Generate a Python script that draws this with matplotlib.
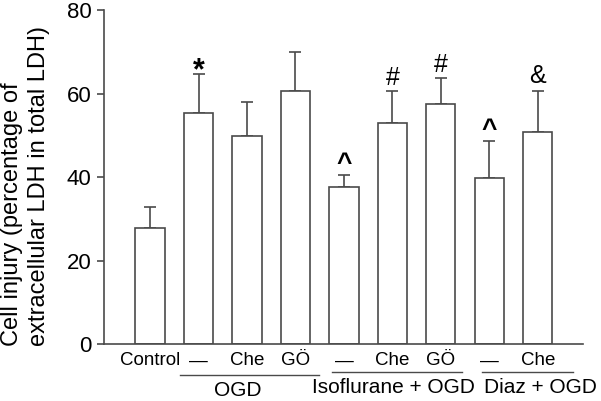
import matplotlib
matplotlib.use("Agg")
import matplotlib.pyplot as plt
import matplotlib.transforms as mtransforms

plt.rcParams["font.family"] = ["Liberation Sans", "DejaVu Sans"]

# ---- data ----
bar_labels = ["Control", "—", "Che", "GÖ", "—", "Che", "GÖ", "—", "Che"]
means = [27.8, 55.3, 49.8, 60.6, 37.7, 52.9, 57.5, 39.8, 50.8]
sems = [5.0, 9.4, 8.2, 9.3, 2.9, 7.7, 6.2, 8.9, 9.8]
marks = ["", "*", "", "", "^", "#", "#", "^", "&"]
groups = ["OGD", "Isoflurane + OGD", "Diaz + OGD"]

# layout of the group brackets under the axis (data x units)
group_lines = [(0.62, 3.48), (3.75, 6.43), (6.85, 8.72)]
group_line_y = [-0.093, -0.084, -0.084]
group_text_x = [1.81, 5.03, 8.06]
# per-symbol style: fontsize, weight, baseline offset above cap (points)
mark_style = {"*": (22, "bold", -3.6), "^": (19, "bold", 2.5),
              "#": (18, "normal", 4.3), "&": (18, "normal", 6.0)}

edge = "#4a4a4a"
fig = plt.figure(figsize=(6.01, 4.01), dpi=100)
ax = fig.add_axes([0.173, 0.142, 0.797, 0.833])

x = list(range(len(means)))
ax.bar(x, means, width=0.6, color="white", edgecolor=edge, linewidth=1.2, zorder=2)
ax.errorbar(x, means, yerr=[[0] * len(sems), sems], fmt="none", ecolor=edge,
            elinewidth=1.2, capsize=4.5, capthick=1.2, zorder=1)

# significance marks above the error bars
for xi, m, s, sym in zip(x, means, sems, marks):
    if sym:
        size, weight, off = mark_style[sym]
        ax.annotate(sym, (xi, m + s), xytext=(0, off), textcoords="offset points",
                    ha="center", va="baseline", fontsize=size, fontweight=weight,
                    color="black")

ax.set_ylim(0, 80)
ax.set_xlim(-0.95, 8.93)
ax.set_yticks([0, 20, 40, 60, 80])
ax.tick_params(axis="y", labelsize=16, length=5, width=1.2, color=edge, pad=4)
ax.set_xticks(x)
ax.set_xticklabels(bar_labels, fontsize=13.5)
ax.get_xticklabels()[0].set_x(-0.18)
ax.tick_params(axis="x", length=0, pad=6)
for sp in ("top", "right"):
    ax.spines[sp].set_visible(False)
for sp in ("left", "bottom"):
    ax.spines[sp].set_color(edge)
    ax.spines[sp].set_linewidth(1.2)

ax.set_ylabel("Cell injury (percentage of\nextracellular LDH in total LDH)",
              fontsize=17, linespacing=1.25, multialignment="left")
ax.yaxis.set_label_coords(-0.214, -0.005)
ax.yaxis.label.set_va("top")
ax.yaxis.label.set_ha("left")
ax.yaxis.label.set_rotation_mode("anchor")

# group underlines and group names
trans = mtransforms.blended_transform_factory(ax.transData, ax.transAxes)
for name, (a, b), ly, tx in zip(groups, group_lines, group_line_y, group_text_x):
    ax.plot([a, b], [ly, ly], color=edge, lw=1.0, transform=trans, clip_on=False)
    ax.text(tx, ly - 0.045, name, transform=trans, ha="center", va="center",
            fontsize=15)

fig.savefig("out.png", dpi=100)
